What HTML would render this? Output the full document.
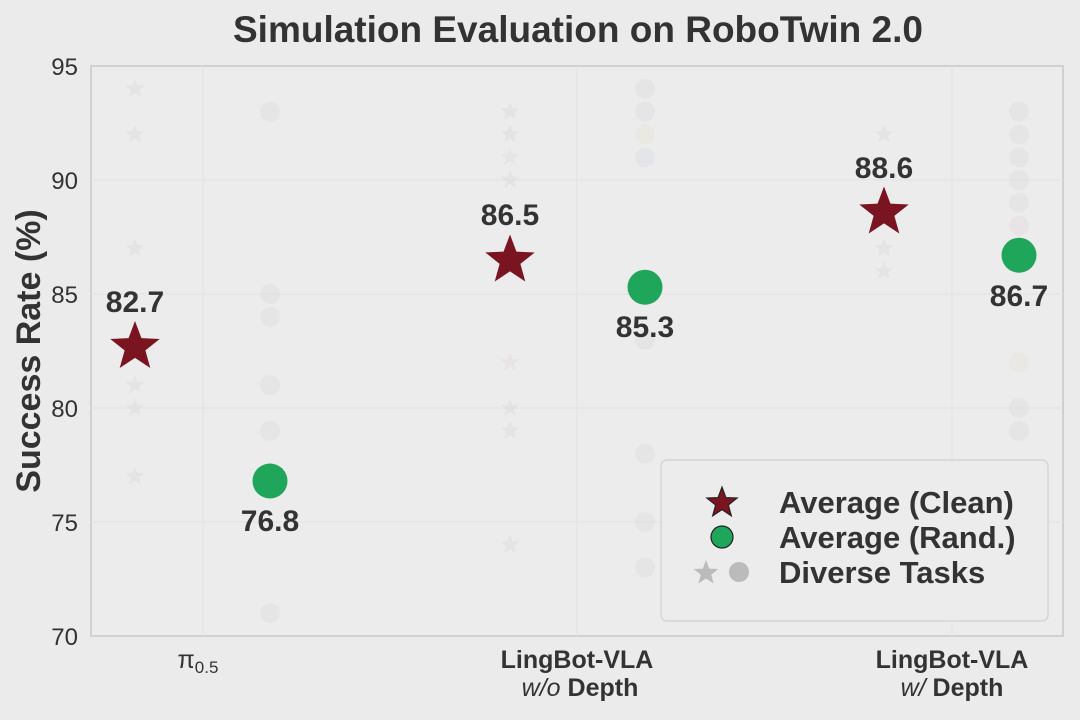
<!DOCTYPE html>
<html><head><meta charset="utf-8"><style>
html,body{margin:0;padding:0;background:#ebebeb;}
svg{display:block;font-family:"Liberation Sans",sans-serif;}
</style></head><body>
<svg width="1080" height="720" xmlns="http://www.w3.org/2000/svg">
<rect width="1080" height="720" fill="#ebebeb"/>
<text x="578" y="42" font-size="37" font-weight="bold" fill="#333" text-anchor="middle">Simulation Evaluation on RoboTwin 2.0</text>
<rect x="91" y="66" width="972" height="570" fill="#ececec" stroke="#c8c8c8" stroke-width="1.5"/>
<g stroke="#e2e2e2" stroke-width="1">
<line x1="91" x2="1063" y1="180" y2="180"/><line x1="91" x2="1063" y1="294" y2="294"/>
<line x1="91" x2="1063" y1="408" y2="408"/><line x1="91" x2="1063" y1="522" y2="522"/>
<line x1="203" x2="203" y1="66" y2="636"/><line x1="577" x2="577" y1="66" y2="636"/><line x1="952" x2="952" y1="66" y2="636"/>
</g>
<g font-size="24" fill="#333" text-anchor="end">
<text x="78" y="75">95</text><text x="78" y="189">90</text><text x="78" y="303">85</text>
<text x="78" y="417">80</text><text x="78" y="531">75</text><text x="78" y="645">70</text>
</g>
<text transform="translate(40,351) rotate(-90)" font-size="34" font-weight="bold" fill="#333" text-anchor="middle">Success Rate (%)</text>
<g font-size="25" fill="#333" text-anchor="middle">
<text x="198" y="668">π<tspan font-size="17" dy="5">0.5</tspan></text>
<text x="577" y="668" font-weight="bold">LingBot-VLA</text>
<text x="580" y="696" font-weight="bold"><tspan font-style="italic" font-weight="normal">w/o</tspan> Depth</text>
<text x="952" y="668" font-weight="bold">LingBot-VLA</text>
<text x="952" y="696" font-weight="bold"><tspan font-style="italic" font-weight="normal">w/</tspan> Depth</text>
</g>
<defs>
<polygon id="st" points="0,-1 0.247,-0.34 0.951,-0.309 0.399,0.13 0.588,0.809 0,0.42 -0.588,0.809 -0.399,0.13 -0.951,-0.309 -0.247,-0.34"/>
</defs>
<g opacity="0.25">
<g fill="#ccc">
<use href="#st" transform="translate(135,88.8) scale(10)"/>
<use href="#st" transform="translate(135,134.4) scale(10)"/>
<use href="#st" transform="translate(135,248.4) scale(10)"/>
<use href="#st" transform="translate(135,385.2) scale(10)"/>
<use href="#st" transform="translate(135,408) scale(10)"/>
<use href="#st" transform="translate(135,476.4) scale(10)"/>
<use href="#st" transform="translate(510,111.6) scale(10)"/>
<use href="#st" transform="translate(510,134.4) scale(10)"/>
<use href="#st" transform="translate(510,180) scale(10)"/>
<use href="#st" transform="translate(510,408) scale(10)"/>
<use href="#st" transform="translate(510,430.8) scale(10)"/>
<use href="#st" transform="translate(510,544.8) scale(10)"/>
<use href="#st" transform="translate(884,134.4) scale(10)"/>
<use href="#st" transform="translate(884,248.4) scale(10)"/>
<use href="#st" transform="translate(884,271.2) scale(10)"/>
</g>
<g fill="#dcc">
<use href="#st" transform="translate(510,157.2) scale(10)"/>
<use href="#st" transform="translate(510,362.4) scale(10)"/>
</g>
<g fill="#d0d0d0">
<circle cx="270" cy="111.6" r="10"/><circle cx="270" cy="294" r="10"/><circle cx="270" cy="316.8" r="10"/>
<circle cx="270" cy="385.2" r="10"/><circle cx="270" cy="430.8" r="10"/><circle cx="270" cy="613.2" r="10"/>
<circle cx="645" cy="88.8" r="10"/><circle cx="645" cy="111.6" r="10"/><circle cx="645" cy="339.6" r="10"/>
<circle cx="645" cy="453.6" r="10"/><circle cx="645" cy="522" r="10"/><circle cx="645" cy="567.6" r="10"/>
<circle cx="1019" cy="111.6" r="10"/><circle cx="1019" cy="134.4" r="10"/><circle cx="1019" cy="157.2" r="10"/>
<circle cx="1019" cy="180" r="10"/><circle cx="1019" cy="202.8" r="10"/><circle cx="1019" cy="408" r="10"/><circle cx="1019" cy="430.8" r="10"/>
</g>
<circle cx="645" cy="134.4" r="10" fill="#e0dcc8"/><circle cx="645" cy="157.2" r="10" fill="#c8d0e0"/>
<circle cx="1019" cy="225.6" r="10" fill="#dccbd0"/><circle cx="1019" cy="362.4" r="10" fill="#e0dcc8"/>
</g>
<g fill="#7a1420">
<use href="#st" transform="translate(135,347) scale(26)"/>
<use href="#st" transform="translate(510,260.5) scale(26)"/>
<use href="#st" transform="translate(884,212.5) scale(26)"/>
</g>
<g fill="#1fa65a">
<circle cx="270" cy="481" r="17.5"/><circle cx="645" cy="287.2" r="17.5"/><circle cx="1019" cy="255.2" r="17.5"/>
</g>
<g font-size="30" font-weight="bold" fill="#333" text-anchor="middle">
<text x="135" y="312">82.7</text><text x="270" y="531">76.8</text>
<text x="510" y="225">86.5</text><text x="645" y="337">85.3</text>
<text x="884" y="178">88.6</text><text x="1019" y="306">86.7</text>
</g>
<rect x="661" y="460" width="387" height="161" rx="6" fill="#ececec" stroke="#d0d0d0" stroke-width="1.2"/>
<use href="#st" transform="translate(722,503) scale(16)" fill="#7a1420" stroke="#222" stroke-width="0.07"/>
<circle cx="722" cy="537" r="11" fill="#1fa65a" stroke="#222" stroke-width="1.2"/>
<use href="#st" transform="translate(706,573) scale(13)" fill="#bbb"/>
<circle cx="739" cy="572" r="10" fill="#bbb"/>
<g font-size="31" font-weight="bold" fill="#333">
<text x="779" y="513">Average (Clean)</text>
<text x="779" y="548">Average (Rand.)</text>
<text x="779" y="583">Diverse Tasks</text>
</g>
</svg>
</body></html>
